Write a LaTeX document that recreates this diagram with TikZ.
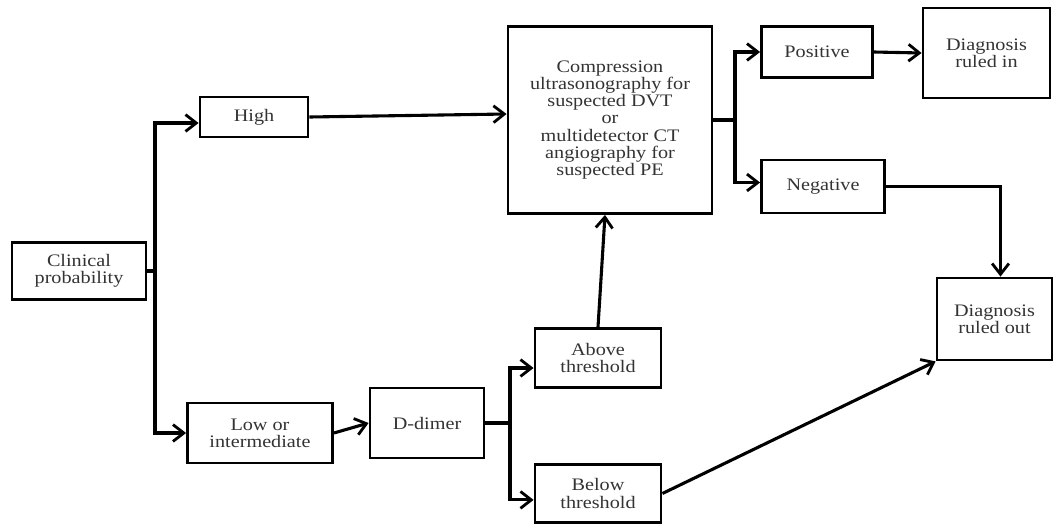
\documentclass[tikz,border=0pt]{standalone}
\usepackage{fontspec}
\setmainfont[FakeStretch=1.15]{Liberation Serif}
\usetikzlibrary{arrows.meta}

\begin{document}
\begin{tikzpicture}[x=0.025cm, y=-0.025cm,
    box/.style={draw, line width=2pt, align=center, inner sep=1pt,
      font=\fontsize{12.5}{12.2}\selectfont, text=black!80},
    link/.style={line width=2.2pt, -{Straight Barb[length=0.27cm, width=0.42cm, line width=2pt]}},
    plain/.style={line width=2.2pt}]
    \useasboundingbox (0,0) rectangle (1054,527);
    % boxes
    \node[box, minimum width=3.35cm, minimum height=1.425cm] (clin) at (79,271) {Clinical\\probability};
    \node[box, minimum width=2.7cm, minimum height=1.0cm] (high) at (254,117) {High};
    \node[box, minimum width=3.625cm, minimum height=1.5cm] (low) at (260,433) {Low or\\intermediate};
    \node[box, minimum width=2.85cm, minimum height=1.75cm] (ddim) at (427,423) {D-dimer};
    \node[box, minimum width=3.15cm, minimum height=1.475cm] (above) at (598,358) {Above\\threshold};
    \node[box, minimum width=3.15cm, minimum height=1.45cm] (below) at (598,493.5) {Below\\threshold};
    \node[box, minimum width=5.1cm, minimum height=4.675cm] (comp) at (610,120)
      {Compression\\ultrasonography for\\suspected DVT\\or\\multidetector CT\\angiography for\\suspected PE};
    \node[box, minimum width=2.775cm, minimum height=1.275cm] (pos) at (817,52) {Positive};
    \node[box, minimum width=3.175cm, minimum height=2.25cm] (ruledin) at (986.5,53) {Diagnosis\\ruled in};
    \node[box, minimum width=3.075cm, minimum height=1.325cm] (neg) at (823,186.5) {Negative};
    \node[box, minimum width=2.875cm, minimum height=2.05cm] (ruledout) at (994.5,319) {Diagnosis\\ruled out};
    % forks
    \coordinate (fork1) at (155,271);
    \coordinate (fork2) at (510,423);
    \coordinate (fork3) at (735,120);
    % connectors
    \draw[plain] (clin.east) -- (fork1);
    \draw[link] (fork1) |- ([yshift=-0.15cm]high.west);
    \draw[link] (fork1) |- (low.west);
    \draw[link] (high.east) -- ([yshift=0.15cm]comp.west);
    \draw[link] (low.east) -- (ddim.west);
    \draw[plain] (ddim.east) -- (fork2);
    \draw[link] (fork2) |- ([yshift=-0.25cm]above.west);
    \draw[link] (fork2) |- ([yshift=-0.16cm]below.west);
    \draw[link] (above.north) -- ([xshift=-0.125cm]comp.south);
    \draw[plain] (comp.east) -- (fork3);
    \draw[link] (fork3) |- (pos.west);
    \draw[link] (fork3) |- ([yshift=0.1cm]neg.west);
    \draw[link] (pos.east) -- (ruledin.west);
    \draw[link] (neg.east) -| ([xshift=0.15cm]ruledout.north);
    \draw[link] (below.east) -- (ruledout.south west);
\end{tikzpicture}
\end{document}
